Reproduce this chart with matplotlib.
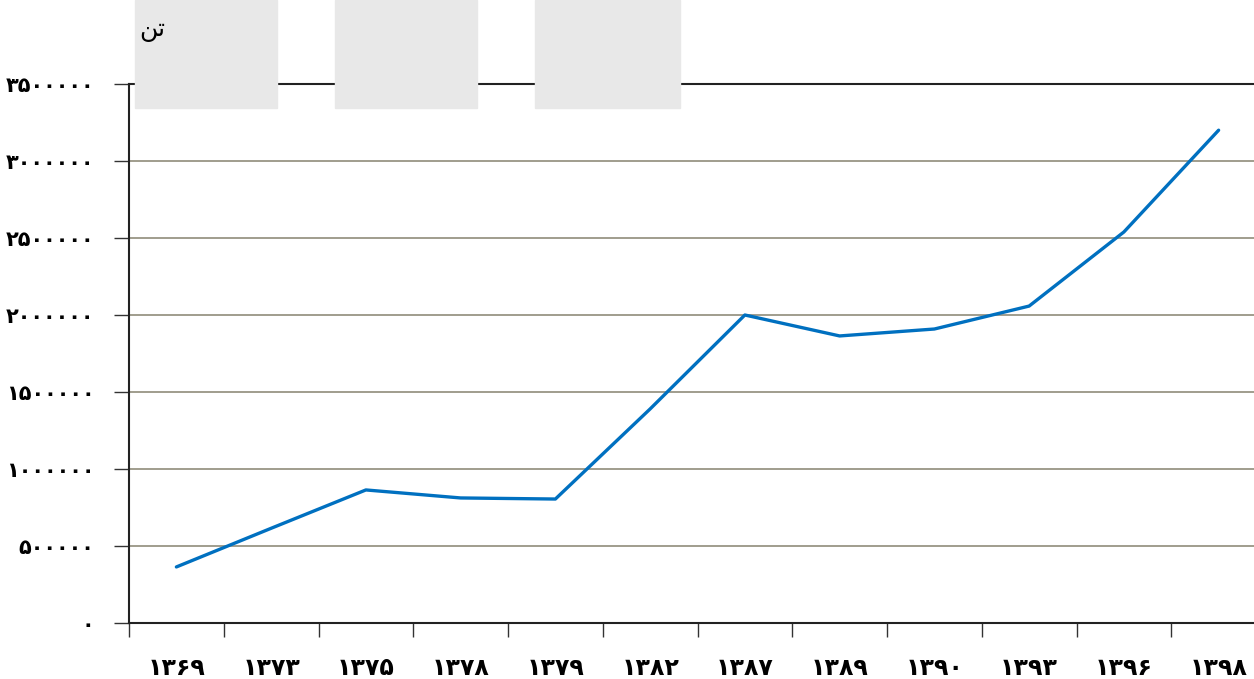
import matplotlib
matplotlib.use("Agg")
import matplotlib.pyplot as plt
from matplotlib.patches import Rectangle

years = ["۱۳۶۹", "۱۳۷۳", "۱۳۷۵", "۱۳۷۸", "۱۳۷۹", "۱۳۸۲", "۱۳۸۷", "۱۳۸۹", "۱۳۹۰", "۱۳۹۳", "۱۳۹۶", "۱۳۹۸"]
values = [364000, 615000, 864000, 812000, 805000, 1390000, 2000000, 1864000, 1909000, 2058000, 2539000, 3200000]
yticks = [0, 500000, 1000000, 1500000, 2000000, 2500000, 3000000, 3500000]
ytick_labels = ["۰", "۵۰۰۰۰۰", "۱۰۰۰۰۰۰", "۱۵۰۰۰۰۰", "۲۰۰۰۰۰۰", "۲۵۰۰۰۰۰", "۳۰۰۰۰۰۰", "۳۵۰۰۰۰۰"]
unit_label = "\uFEE6\uFE97"  # "تن" in visual order (presentation forms)

plt.rcParams['font.family'] = ['DejaVu Sans']

W, H = 1254, 679
fig = plt.figure(figsize=(W / 100, H / 100), dpi=100)

# watermark blocks
for x0, x1 in [(135, 277), (335, 477), (535, 680)]:
    fig.patches.append(Rectangle((x0 / W, 1 - 108 / H), (x1 - x0) / W, 108 / H,
                                 transform=fig.transFigure, color="#e8e8e8", zorder=0))

left, right, top, bottom = 129, 1266, 84, 623
ax = fig.add_axes([left / W, 1 - bottom / H, (right - left) / W, (bottom - top) / H])
ax.patch.set_alpha(0)

x = list(range(len(years)))
ax.plot(x, values, color="#0070C0", lw=2.4, zorder=3, solid_joinstyle="round", solid_capstyle="round")

ax.set_xlim(-0.5, len(years) - 0.5)
ax.set_ylim(0, 3500000)
ax.set_yticks(yticks)
ax.set_yticklabels(ytick_labels, fontsize=15, fontweight="bold")
ax.set_xticks(x)
ax.set_xticklabels(years, fontsize=17, fontweight="bold")
ax.set_xticks([i - 0.5 for i in range(len(years) + 1)], minor=True)
ax.tick_params(axis="x", which="major", length=0, pad=24)
ax.tick_params(axis="x", which="minor", length=10, width=1, color="#333333")
ax.tick_params(axis="y", length=11, width=1, color="#333333", pad=14)

for y in yticks[1:-1]:
    ax.axhline(y, color="#86836f", lw=1.1, zorder=1)

for s in ["left", "bottom", "top"]:
    ax.spines[s].set_color("#222222")
    ax.spines[s].set_linewidth(1.5)
ax.spines["right"].set_visible(False)

fig.text(152 / W, 1 - 30 / H, unit_label, fontsize=18, ha="center", va="center")

fig.savefig("out.png", dpi=100)
